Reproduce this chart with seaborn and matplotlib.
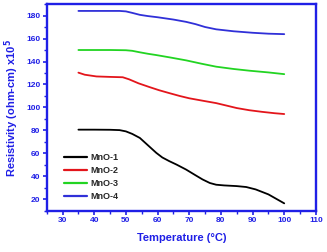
import numpy as np
import pandas as pd
import matplotlib
matplotlib.use("Agg")
import matplotlib.pyplot as plt
import seaborn as sns
from matplotlib.ticker import MultipleLocator

# ─────────────────────────────────────────
# DATA
# ─────────────────────────────────────────
temp_1 = [35, 40, 45, 48, 50, 52, 54.4, 57, 59.6, 61.5, 63.7, 66, 69, 72, 74.2, 76.5, 78.5, 81, 85, 88, 91, 95, 100]
mno_1 = [80.7, 80.7, 80.6, 80.3, 79.2, 77, 73.5, 67, 60.5, 56.5, 53.3, 50.3, 46, 41, 37.4, 34.3, 32.8, 32.2, 31.6, 30.8, 28.7, 24.4, 16.6]

temp_2 = [35, 37, 40.7, 45, 49, 51, 54, 57.5, 60.5, 63.7, 67, 70, 74, 78.5, 82, 85, 89, 93, 97, 100]
mno_2 = [130.3, 128.5, 127, 126.6, 126.3, 124.5, 121, 117.7, 115, 112.5, 110, 108, 106, 103.8, 101.5, 99.5, 97.6, 96.2, 95, 94.3]

temp_3 = [35, 40, 45, 50, 52, 54.4, 57, 59.6, 64, 69, 74, 78.5, 84, 89, 95, 100]
mno_3 = [150, 150, 150, 149.8, 149.3, 148, 146.7, 145.6, 143.5, 141, 138, 135.5, 133.5, 132, 130.5, 129]

temp_4 = [35, 40, 45, 48, 50, 52, 54.4, 57, 60, 65, 69, 72, 75, 78.5, 84, 90, 95, 100]
mno_4 = [184, 184, 184, 184, 183.6, 182.3, 180.6, 179.5, 178.5, 176.5, 174.5, 172.5, 170, 168, 166.3, 165, 164.2, 163.8]

labels = ["MnO-1", "MnO-2", "MnO-3", "MnO-4"]
colors = ["#000000", "#e3151b", "#22d422", "#3030d8"]

rows = []
for lab, xs, ys in zip(labels, [temp_1, temp_2, temp_3, temp_4], [mno_1, mno_2, mno_3, mno_4]):
    for x, y in zip(xs, ys):
        rows.append({"Temperature": x, "Resistivity": y, "Sample": lab})
df = pd.DataFrame(rows)

# ─────────────────────────────────────────
# PLOT
# ─────────────────────────────────────────
sns.set_theme(style="white")
plt.rcParams['font.family'] = ['Liberation Sans', 'DejaVu Sans']
plt.rcParams['font.weight'] = 'bold'

blue = "#1f1fe6"
fig = plt.figure(figsize=(3.27, 2.52), dpi=100)
ax = fig.add_axes([0.143, 0.163, 0.823, 0.821])

sns.lineplot(data=df, x="Temperature", y="Resistivity", hue="Sample",
             palette=dict(zip(labels, colors)), linewidth=1.3, ax=ax,
             sort=True, estimator=None)

ax.set_xlim(25, 110)
ax.set_ylim(10, 190)
ax.xaxis.set_minor_locator(MultipleLocator(5))
ax.yaxis.set_minor_locator(MultipleLocator(10))
ax.set_xticks(range(30, 111, 10))
ax.set_yticks(range(20, 181, 20))

for sp in ax.spines.values():
    sp.set_color(blue)
    sp.set_linewidth(1.7)

ax.tick_params(axis='both', which='major', direction='out', length=3, width=1.2,
               colors=blue, labelsize=6, pad=1.5, bottom=True, left=True)
ax.tick_params(axis='both', which='minor', direction='out', length=2, width=1,
               colors=blue, bottom=True, left=True)
for t in ax.get_xticklabels() + ax.get_yticklabels():
    t.set_fontweight('bold')

ax.set_xlabel("Temperature (°C)", color=blue, fontsize=8, fontweight='bold', labelpad=6)
ax.set_ylabel("Resistivity (ohm-cm) x10$^5$", color=blue, fontsize=8, fontweight='bold', labelpad=4)

leg = ax.legend(loc='lower left', bbox_to_anchor=(0.045, 0.02), frameon=False,
                fontsize=6.5, handlelength=2.5, handletextpad=0.4,
                labelspacing=0.45, borderaxespad=0.2)
for t in leg.get_texts():
    t.set_fontweight('bold')
for l in leg.get_lines():
    l.set_linewidth(1.6)

plt.savefig("out.png", dpi=100)
